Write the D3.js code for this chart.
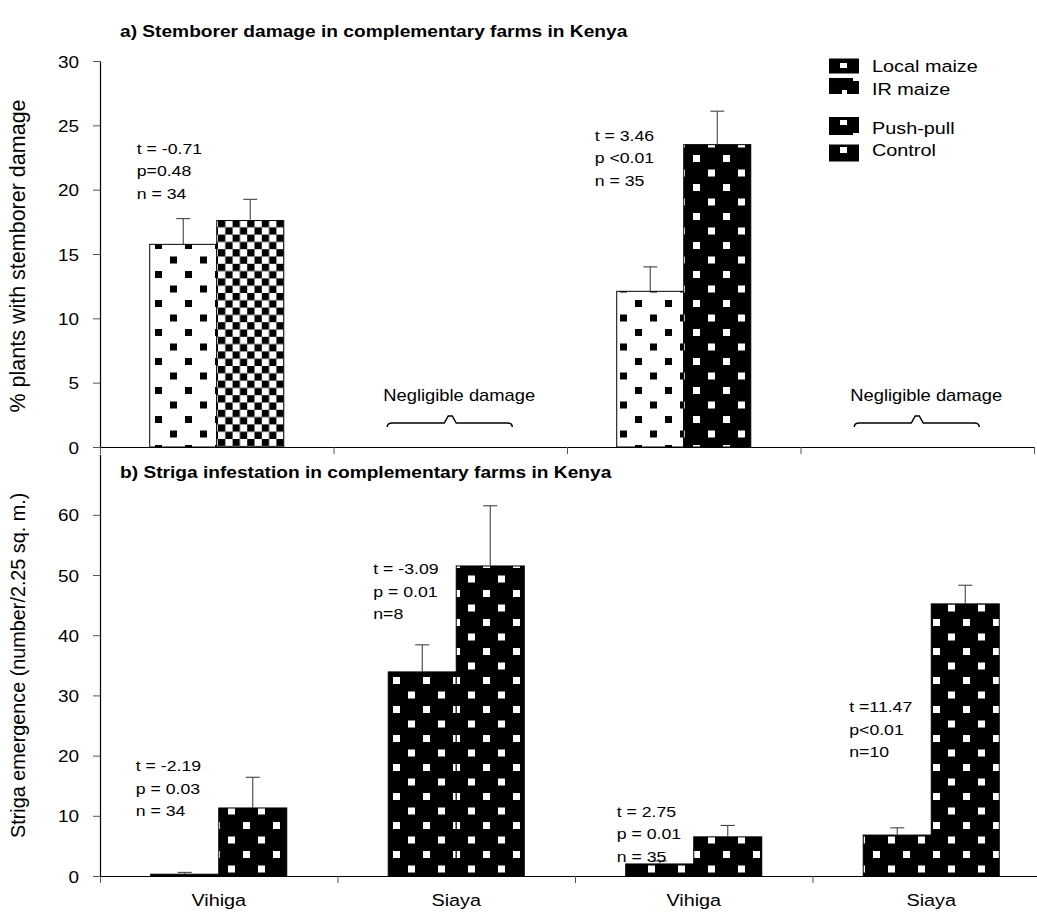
<!DOCTYPE html>
<html><head><meta charset="utf-8">
<script src="https://cdn.jsdelivr.net/npm/d3@7"></script>
<style>body{margin:0;background:#fff}svg{display:block}text{font-family:"Liberation Sans",Arial,sans-serif}</style>
</head><body><svg id="c" width="1037" height="915"></svg>
<script>
// ---------- data ----------
const groups = ["Vihiga", "Siaya", "Vihiga", "Siaya"];
const groupKeys = ["g1", "g2", "g3", "g4"];
const stemTicks = [0, 5, 10, 15, 20, 25, 30];
const strigaTicks = [0, 10, 20, 30, 40, 50, 60];
const stemLeft = [15.75, null, 12.1, null];
const stemLeftSE = [2.0, null, 1.9, null];
const stemRight = [17.6, null, 23.5, null];
const stemRightSE = [1.65, null, 2.6, null];
const strigaLeft = [0.3, 33.9, 2.0, 6.8];
const strigaLeftSE = [0.3, 4.5, 0.5, 1.2];
const strigaRight = [11.3, 51.5, 6.5, 45.2];
const strigaRightSE = [5.1, 10.0, 1.9, 3.1];
const stemLeftPattern = ["dotsW", null, "dotsW", null];
const stemRightPattern = ["checker", null, "dotsB", null];
const strigaLeftPattern = ["dotsB", "dotsB", "dotsB", "dotsB"];
const strigaRightPattern = ["dotsB", "dotsB", "dotsB", "dotsB"];
const legendLabels = ["Local maize", "IR maize", "Push-pull", "Control"];
const stemStats = [["t = -0.71", "p=0.48", "n = 34"], null, ["t = 3.46", "p <0.01", "n = 35"], null];
const strigaStats = [["t = -2.19", "p = 0.03", "n = 34"], ["t = -3.09", "p = 0.01", "n=8"], ["t = 2.75", "p = 0.01", "n = 35"], ["t =11.47", "p<0.01", "n=10"]];
const negligible = [null, "Negligible damage", null, "Negligible damage"];
const titleA = "a) Stemborer damage in complementary farms in Kenya";
const titleB = "b) Striga infestation in complementary farms in Kenya";
const yLabelA = "% plants with stemborer damage";
const yLabelB = "Striga emergence (number/2.25 sq. m.)";

// ---------- layout ----------
const SX = 1.14;
const svg = d3.select("#c");
const defs = svg.append("defs");
function dotPattern(id, bg, fg, ox, oy) {
  const p = defs.append("pattern").attr("id", id).attr("patternUnits", "userSpaceOnUse")
    .attr("width", 30).attr("height", 29).attr("x", ox).attr("y", oy);
  p.append("rect").attr("width", 30).attr("height", 29).attr("fill", bg);
  p.append("rect").attr("x", 0).attr("y", 0).attr("width", 7).attr("height", 7).attr("fill", fg);
  p.append("rect").attr("x", 15).attr("y", 14.5).attr("width", 7).attr("height", 7).attr("fill", fg);
}
dotPattern("dotsW", "#fff", "#000", 5, 10);
dotPattern("dotsB", "#000", "#fff", 3, 10);
(function () {
  const p = defs.append("pattern").attr("id", "checker").attr("patternUnits", "userSpaceOnUse")
    .attr("width", 14.6).attr("height", 14.6).attr("x", 218).attr("y", 220);
  p.append("rect").attr("width", 14.6).attr("height", 14.6).attr("fill", "#fff");
  p.append("rect").attr("width", 7.3).attr("height", 7.3).attr("fill", "#000");
  p.append("rect").attr("x", 7.3).attr("y", 7.3).attr("width", 7.3).attr("height", 7.3).attr("fill", "#000");
})();

function txt(g, x, y, s, size, opts = {}) {
  return g.append("text")
    .attr("transform", `translate(${x},${y}) scale(${opts.sx || SX},1)`)
    .attr("text-anchor", opts.anchor || "start")
    .attr("font-size", size)
    .attr("font-weight", opts.bold ? "bold" : null)
    .attr("fill", "#000").text(s);
}

const X0 = 100;
// panel a scales
const xa = d3.scaleBand().domain(groupKeys).range([X0, X0 + 4 * 233.5]);
const xaIn = d3.scaleBand().domain([0, 1]).range([0, xa.bandwidth()]).paddingOuter(0.742).paddingInner(0);
const ya = d3.scaleLinear().domain([0, 30]).range([447, 61]);
// panel b scales
const xb = d3.scaleBand().domain(groupKeys).range([X0, X0 + 4 * 237.5]);
const xbIn = d3.scaleBand().domain([0, 1]).range([0, xb.bandwidth()]).paddingOuter(0.746).paddingInner(0);
const yb = d3.scaleLinear().domain([0, 70]).range([876, 454.6]);

function drawPanel(opt) {
  const { xs, xin, ys, left, leftSE, right, rightSE, lp, rp, ticks } = opt;
  const g = svg.append("g");
  const series = [[left, leftSE, lp], [right, rightSE, rp]];
  series.forEach(([vals, se, pat], si) => {
    groupKeys.forEach((k, i) => {
      if (vals[i] == null) return;
      const x = xs(k) + xin(si);
      g.append("rect").attr("x", x).attr("y", ys(vals[i]))
        .attr("width", xin.bandwidth()).attr("height", ys(0) - ys(vals[i]))
        .attr("fill", `url(#${pat[i]})`).attr("stroke", "#000").attr("stroke-width", 1);
    });
  });
  series.forEach(([vals, se], si) => {
    groupKeys.forEach((k, i) => {
      if (vals[i] == null) return;
      const cx = xs(k) + xin(si) + xin.bandwidth() / 2;
      const y1 = ys(vals[i]), y2 = ys(vals[i] + se[i]);
      g.append("line").attr("x1", cx).attr("x2", cx).attr("y1", y1).attr("y2", y2).attr("stroke", "#444").attr("stroke-width", 1.1);
      g.append("line").attr("x1", cx - 7).attr("x2", cx + 7).attr("y1", y2).attr("y2", y2).attr("stroke", "#444").attr("stroke-width", 1.1);
    });
  });
  const ay = g.append("g").attr("transform", `translate(${X0},0)`)
    .call(d3.axisLeft(ys).tickValues(ticks).tickSize(7).tickSizeOuter(0).tickFormat(d3.format("d")));
  ay.select(".domain").attr("stroke", "#000").attr("stroke-width", 1.2);
  ay.selectAll(".tick line").attr("stroke", "#555");
  ay.selectAll(".tick text").attr("x", null).attr("dy", null)
    .attr("transform", `translate(-21,6) scale(${SX},1)`)
    .attr("font-size", 16.6).attr("font-family", '"Liberation Sans", Arial, sans-serif').attr("fill", "#000");
  const bx = d3.scaleLinear().domain([0, 4]).range(xs.range());
  const ax = g.append("g").attr("transform", `translate(0,${ys(0)})`)
    .call(d3.axisBottom(bx).tickValues([0, 1, 2, 3, 4]).tickSize(7).tickSizeOuter(0).tickFormat(""));
  ax.select(".domain").attr("stroke", "#000").attr("stroke-width", 1.2);
  ax.selectAll(".tick line").attr("stroke", "#555");
  return g;
}

drawPanel({ xs: xa, xin: xaIn, ys: ya, left: stemLeft, leftSE: stemLeftSE, right: stemRight, rightSE: stemRightSE, lp: stemLeftPattern, rp: stemRightPattern, ticks: stemTicks });
drawPanel({ xs: xb, xin: xbIn, ys: yb, left: strigaLeft, leftSE: strigaLeftSE, right: strigaRight, rightSE: strigaRightSE, lp: strigaLeftPattern, rp: strigaRightPattern, ticks: strigaTicks });

// titles
txt(svg, 120, 37, titleA, 16.8, { bold: true });
txt(svg, 120, 478, titleB, 16.8, { bold: true });

// y labels
svg.append("text").attr("transform", `translate(25,${(ya.range()[0] + ya.range()[1]) / 2 + 2}) rotate(-90)`)
  .attr("text-anchor", "middle").attr("font-size", 21.5).attr("fill", "#000").text(yLabelA);
svg.append("text").attr("transform", `translate(25,${(yb.range()[0] + yb.range()[1]) / 2}) rotate(-90)`)
  .attr("text-anchor", "middle").attr("font-size", 19.8).attr("fill", "#000").text(yLabelB);

// category labels
groupKeys.forEach((k, i) => {
  txt(svg, xb(k) + xb.bandwidth() / 2, 906, groups[i], 17.4, { anchor: "middle" });
});

// stats annotations
const statPosA = [[-80, 23.25], null, [-89, 24.25], null];
const statPosB = [[-83, 18.4], [-83, 51.1], [-77, 10.8], [-82, 28.2]];
function stats(xs, ys, arr, pos) {
  groupKeys.forEach((k, i) => {
    if (!arr[i]) return;
    const cx = xs(k) + xs.bandwidth() / 2 + pos[i][0];
    const cy = ys(pos[i][1]);
    arr[i].forEach((s, j) => txt(svg, cx, cy + 6 + j * 22.5, s, 15.5));
  });
}
stats(xa, ya, stemStats, statPosA);
stats(xb, yb, strigaStats, statPosB);

// negligible damage braces
groupKeys.forEach((k, i) => {
  if (!negligible[i]) return;
  const c = xa(k) + xa.bandwidth() / 2;
  const l = c - 63, r = c + 62, y = ya(0) - 24;
  svg.append("path")
    .attr("d", `M${l},${y + 4} Q${l},${y} ${l + 5},${y} L${c - 6},${y} L${c - 2},${y - 7} L${c + 2},${y - 7} L${c + 6},${y} L${r - 5},${y} Q${r},${y} ${r},${y + 4}`)
    .attr("fill", "none").attr("stroke", "#000").attr("stroke-width", 1.5);
  txt(svg, l - 4, y - 22, negligible[i], 16.1);
});

// legend
const leg = svg.append("g");
const legRows = [66, 86, 126, 153];
const legText = [66, 89, 128, 150];
const legBoxH = [15, 16, 18, 17];
const legWhite = [
  [[840, 63, 7, 5]],
  [[853, 78, 6, 3], [842, 90, 5, 4]],
  [[840, 120, 7, 5], [853, 133, 6, 2]],
  [[840, 147, 7, 6]]
];
legendLabels.forEach((s, i) => {
  leg.append("rect").attr("x", 829).attr("y", legRows[i] - legBoxH[i] / 2).attr("width", 30).attr("height", legBoxH[i]).attr("fill", "#000");
  legWhite[i].forEach(w => leg.append("rect").attr("x", w[0]).attr("y", w[1]).attr("width", w[2]).attr("height", w[3]).attr("fill", "#fff"));
  txt(leg, 872, legText[i] + 6, s, 17.4);
});
</script>
</body></html>
